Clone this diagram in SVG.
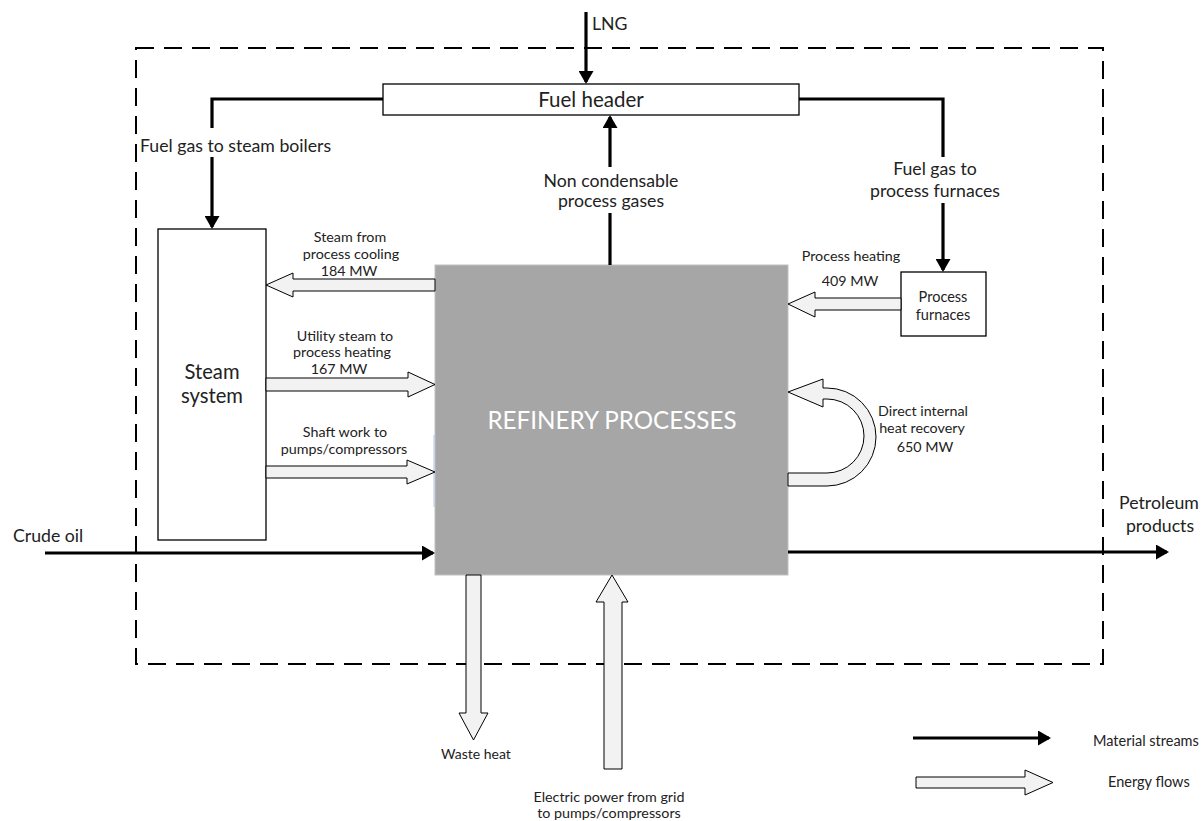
<svg xmlns="http://www.w3.org/2000/svg" width="1204" height="821" viewBox="0 0 1204 821">
<style>
text{font-family:Lato,"Open Sans","Liberation Sans",sans-serif;fill:#222}
.big{font-size:17.7px}
.sm{font-size:14.3px}
.mid{font-size:14.5px}
.leg{font-size:14.5px}
.mat{fill:none;stroke:#000;stroke-width:3.2;marker-end:url(#ah)}
.matn{fill:none;stroke:#000;stroke-width:3.2}
.en{fill:#f2f2f2;stroke:#000;stroke-width:1}
.box{fill:#fff;stroke:#000;stroke-width:1.3}
</style>
<defs>
<marker id="ah" markerUnits="userSpaceOnUse" markerWidth="13" markerHeight="15" viewBox="0 0 13 15" refX="11" refY="7.5" orient="auto">
<path d="M0,0 L13,7.5 L0,15 z" fill="#000"/>
</marker>
</defs>
<rect width="1204" height="821" fill="#fff"/>
<g id="boundary">
<rect x="136" y="48" width="967" height="616" fill="none" stroke="#000" stroke-width="2" stroke-dasharray="18 10"/>
</g>
<g id="fuel-header">
<rect class="box" x="383" y="84" width="416" height="31"/>
<text x="591" y="107" text-anchor="middle" font-size="20.5">Fuel header</text>
</g>
<g id="steam-system">
<rect class="box" x="158" y="229" width="108" height="311"/>
<text x="212" y="379" text-anchor="middle" font-size="20.2">Steam</text>
<text x="212" y="403" text-anchor="middle" font-size="20.2">system</text>
</g>
<g id="refinery">
<rect x="435" y="265" width="353" height="310" fill="#a6a6a6" stroke="#c0c0c0" stroke-width="1"/>
<text x="612" y="429" text-anchor="middle" font-size="24.2" style="fill:#fff">REFINERY PROCESSES</text>
<line x1="434" y1="435" x2="434" y2="507" stroke="#b4c7e7" stroke-width="1"/>
</g>
<g id="process-furnaces">
<rect class="box" x="901" y="272" width="85" height="64"/>
<text class="mid" x="943" y="302" text-anchor="middle">Process</text>
<text class="mid" x="943" y="320" text-anchor="middle">furnaces</text>
</g>
<g id="connectors">
<path class="mat" d="M586,12 V82"/>
<path class="matn" d="M383,99 H212 V128"/>
<path class="mat" d="M212,157 V227"/>
<path class="matn" d="M799,99 H943 V157"/>
<path class="mat" d="M943,203 V270"/>
<path class="matn" d="M610,265 V213"/>
<path class="mat" d="M610,167 V117"/>
<path class="mat" d="M45,553 H433"/>
<path class="mat" d="M788,552 H1167"/>
<polygon class="en" points="266,285 293,273 293,279 435,279 435,291 293,291 293,297"/>
<polygon class="en" points="266,378 408,378 408,372 435,384.5 408,397 408,391 266,391"/>
<polygon class="en" points="266,466 407,466 407,460 435,472 407,484 407,478 266,478"/>
<polygon class="en" points="788,304 815,292 815,298 901,298 901,310 815,310 815,317"/>
<path class="en" d="M788,392 L823,379 L823,388 L827,388 A49,49 0 0 1 827,486 L788,486 L788,473 L827,473 A37,37 0 0 0 827,399 L823,399 L823,407 Z"/>
<polygon class="en" points="466,575 481,575 481,713 488,713 473.5,740 459,713 466,713"/>
<polygon class="en" points="604,769 604,602 596,602 612,575 628,602 622,602 622,769"/>
</g>
<g id="labels">
<text class="big" x="592" y="30">LNG</text>
<text class="big" x="140" y="152">Fuel gas to steam boilers</text>
<text class="big" x="611" y="187" text-anchor="middle">Non condensable</text>
<text class="big" x="611" y="207" text-anchor="middle">process gases</text>
<text class="big" x="935" y="175" text-anchor="middle">Fuel gas to</text>
<text class="big" x="935" y="197" text-anchor="middle">process furnaces</text>
<text class="sm" x="851" y="261" text-anchor="middle">Process heating</text>
<text class="sm" x="850" y="286" text-anchor="middle">409 MW</text>
<text class="sm" x="350" y="242" text-anchor="middle">Steam from</text>
<text class="sm" x="351" y="259" text-anchor="middle">process cooling</text>
<text class="sm" x="349" y="276" text-anchor="middle">184 MW</text>
<text class="sm" x="345" y="341" text-anchor="middle">Utility steam to</text>
<text class="sm" x="342" y="357" text-anchor="middle">process heating</text>
<text class="sm" x="339" y="374" text-anchor="middle">167 MW</text>
<text class="sm" x="345" y="437" text-anchor="middle">Shaft work to</text>
<text class="sm" x="344" y="454" text-anchor="middle">pumps/compressors</text>
<text class="sm" x="923" y="416" text-anchor="middle">Direct internal</text>
<text class="sm" x="922" y="433" text-anchor="middle">heat recovery</text>
<text class="sm" x="925" y="452" text-anchor="middle">650 MW</text>
<text class="big" x="13" y="542">Crude oil</text>
<text class="big" x="1159" y="509" text-anchor="middle">Petroleum</text>
<text class="big" x="1160" y="532" text-anchor="middle">products</text>
<text x="476" y="759" text-anchor="middle" font-size="14">Waste heat</text>
<text class="sm" x="609" y="802" text-anchor="middle">Electric power from grid</text>
<text class="sm" x="609" y="818" text-anchor="middle">to pumps/compressors</text>
</g>
<g id="legend">
<path class="mat" d="M913,738 H1049"/>
<polygon class="en" points="916,777 1025,777 1025,770 1053,782.5 1025,795 1025,788 916,788"/>
<text class="leg" x="1093" y="746">Material streams</text>
<text class="leg" x="1108" y="787">Energy flows</text>
</g>
</svg>
